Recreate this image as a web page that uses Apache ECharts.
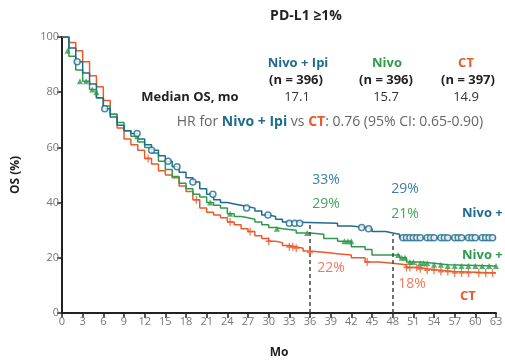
<!DOCTYPE html>
<html><head><meta charset="utf-8">
<script src="https://cdn.jsdelivr.net/npm/echarts@6/dist/echarts.min.js"></script>
<style>html,body{margin:0;padding:0;background:#fff}#c{width:505px;height:360px}</style>
</head><body><div id="c"></div>
<script>
const xTicks = [0,3,6,9,12,15,18,21,24,27,30,33,36,39,42,45,48,51,54,57,60,63];
const yTicks = [0,20,40,60,80,100];

const nivoIpi = [[0,100],[1,96],[2,91],[3,87],[4,83],[5,78],[6,74],[7,71],[8,68],[9,66],[10,65],[11,63],[12,61],[13,59],[14,57],[15,55],[16,53],[17,51],[18,49],[19,47.5],[20,45],[21,43],[22,41],[23,40],[24,39.5],[25,39],[26,38.5],[27,38],[28,37],[29,35.5],[30,35],[31,34],[32,33],[33,32.5],[40,31.5],[42,31],[44,30.5],[45,29.5],[47,29],[48,28.5],[49,27.3],[63,27.3]];
const nivo = [[0,100],[1,93],[2,88],[3,84],[4,81],[5,78],[6,75],[7,72],[8,69],[9,66],[10,64],[11,62],[12,60],[13,58],[14,55],[15,52],[16,49.5],[17,47],[18,45],[19,43],[20,42],[21,40],[22,39],[23,38],[24,36],[25,35],[26,34.5],[27,34],[28,33],[29,32],[30,31],[31,30.5],[32,30],[34,29],[36,28.5],[38,27],[40,26],[42,24],[44,23],[45,21],[48.5,21],[49,20],[50,18.5],[52,18],[54,17.5],[56,17],[63,17]];
const ct = [[0,100],[1,98],[2,95],[3,91],[4,86],[5,82],[6,77],[7,72],[8,67],[9,63],[10,61],[11,59],[12,56],[13,54],[14,51.5],[15,50],[16,49],[17,46],[18,44],[19,41],[20,38],[21,36.5],[22,35.5],[23,34.5],[24,33],[25,32],[26,30.5],[27,29.5],[28,28],[29,27],[30,26],[31,25.5],[32,24.5],[33,24],[34,23.5],[35,22.5],[36,22],[38,21.5],[40,21],[42,20],[44,18.5],[46,18],[48,17.5],[50,16.5],[52,16],[53,15.5],[55,15],[57,14.5],[63,14.5]];

const nivoIpiCens = [[2.2,91],[6.2,74],[10.9,65],[13,59],[15.4,55],[16.7,53],[19,47.5],[21.9,43],[26.8,38],[29.9,35.5],[33,32.5],[33.8,32.5],[34.5,32.5],[43.5,31],[44.5,30.5],[49.5,27.3],[50,27.3],[50.5,27.3],[51,27.3],[51.5,27.3],[52,27.3],[53,27.3],[53.5,27.3],[54,27.3],[55,27.3],[55.5,27.3],[56,27.3],[57,27.3],[57.5,27.3],[58,27.3],[59,27.3],[59.5,27.3],[60,27.3],[61,27.3],[61.5,27.3],[62,27.3],[62.5,27.3]];
const nivoCens = [[0.8,95],[2.6,84],[3.5,84],[4.4,81],[5,80],[10.9,64],[21.5,40],[24.4,36],[31.2,30.5],[35.6,29],[41,26],[41.5,26],[42,26],[48.8,21],[49.3,20],[49.8,20],[50.5,18.5],[51,18.5],[52,18],[52.5,18],[53,18],[54,17.5],[55,17.5],[56,17],[57,17],[58,17],[59,17],[60,17],[61,17],[62,17],[63,17]];
const ctCens = [[12.5,56],[19.5,41],[24.4,33],[27.3,29.5],[30,26],[33,24],[33.5,24],[34,23.5],[36,22],[44.3,18.5],[50,16.5],[50.5,16.5],[51.5,16.5],[52,16],[53,15.5],[54,15.5],[55,15],[56,15],[57,14.5],[58,14.5],[59,14.5],[60.5,14.5],[61.5,14.5],[62.5,14.5]];

const landmarks = [[36,32.5],[48,28.5]];

const BLUE='#1f6b8e', GREEN='#2f9a4c', RED='#ec5a2c';
const FONT='"Open Sans", "Liberation Sans", sans-serif';

const chart = echarts.init(document.getElementById('c'), null, {renderer:'canvas'});
function txt(x,y,t,fill,opts){return {type:'text',x:x,y:y,style:Object.assign({text:t,fill:fill,font:'13px '+FONT,textAlign:'center',textVerticalAlign:'middle'},opts||{})};}
const bold='bold 13px '+FONT;
const pct='14px '+FONT;
chart.setOption({
  animation:false,
  grid:{left:62,right:9,top:37,bottom:47,containLabel:false,outerBoundsMode:'none'},
  xAxis:{type:'value',min:0,max:63,interval:3,
    axisLine:{lineStyle:{color:'#222',width:2}},
    axisTick:{show:true,length:5,lineStyle:{color:'#222',width:1.5}},
    axisLabel:{color:'#777',fontSize:11,fontFamily:FONT,margin:3,showMinLabel:true,showMaxLabel:true,interval:0},
    splitLine:{show:false},
    name:'Mo',nameLocation:'middle',nameGap:34,nameTextStyle:{color:'#222',fontWeight:'bold',fontSize:12,fontFamily:FONT}},
  yAxis:{type:'value',min:0,max:100,interval:20,
    axisLine:{show:true,lineStyle:{color:'#222',width:2}},
    axisTick:{show:true,length:5,lineStyle:{color:'#222',width:1.5}},
    axisLabel:{color:'#777',fontSize:11,fontFamily:FONT,margin:3},
    splitLine:{show:false},
    name:'OS (%)',nameLocation:'middle',nameGap:40,nameTextStyle:{color:'#222',fontWeight:'bold',fontSize:12,fontFamily:FONT}},
  series:[
    {type:'line',step:'end',data:ct,symbol:'none',lineStyle:{color:RED,width:1.5},z:2,
      markLine:{silent:true,symbol:'none',label:{show:false},lineStyle:{color:'#444',type:[4,3],width:1.5},
        data:landmarks.map(p=>[{coord:[p[0],0]},{coord:[p[0],p[1]]}])}},
    {type:'line',step:'end',data:nivo,symbol:'none',lineStyle:{color:GREEN,width:1.5},z:3},
    {type:'line',step:'end',data:nivoIpi,symbol:'none',lineStyle:{color:BLUE,width:1.5},z:4},
    {type:'scatter',data:ctCens,symbol:'path://M0,5L10,5M5,0L5,10',symbolSize:[6,8],itemStyle:{color:'none',borderColor:RED,borderWidth:1.5},z:5},
    {type:'scatter',data:nivoCens,symbol:'triangle',symbolSize:6,itemStyle:{color:GREEN},z:6},
    {type:'scatter',data:nivoIpiCens,symbol:'circle',symbolSize:6,itemStyle:{color:'#fff',borderColor:BLUE,borderWidth:1.5},z:7}
  ],
  graphic:[
    txt(306,16,'PD-L1 ≥1%','#222',{font:'bold 14px '+FONT}),
    txt(298,63,'Nivo + Ipi',BLUE,{font:bold}),
    txt(387,63,'Nivo',GREEN,{font:bold}),
    txt(466,63,'CT',RED,{font:bold}),
    txt(296,80,'(n = 396)','#222',{font:bold}),
    txt(386,80,'(n = 396)','#222',{font:bold}),
    txt(468,80,'(n = 397)','#222',{font:bold}),
    txt(190,97,'Median OS, mo','#222',{font:bold}),
    txt(297,97,'17.1','#333'),
    txt(386,97,'15.7','#333'),
    txt(466,97,'14.9','#333'),
    {type:'text',x:330,y:122,style:{rich:{g:{fill:'#666',font:'14px '+FONT},b:{fill:BLUE,font:'bold 14px '+FONT},r:{fill:RED,font:'bold 14px '+FONT}},
      text:'{g|HR for }{b|Nivo + Ipi}{g| vs }{r|CT}{g|: 0.76 (95% CI: 0.65-0.90)}',textAlign:'center',textVerticalAlign:'middle'}},
    txt(326,180,'33%','#3a7fa6',{font:pct}),
    txt(326,204,'29%','#47a35a',{font:pct}),
    txt(405,189,'29%','#3a7fa6',{font:pct}),
    txt(405,214,'21%','#47a35a',{font:pct}),
    txt(331,268,'22%','#f07a5a',{font:pct}),
    txt(412,284,'18%','#f07a5a',{font:pct}),
    {type:'text',x:462,y:213,style:{text:'Nivo + Ipi',fill:BLUE,font:bold,textVerticalAlign:'middle'}},
    {type:'text',x:462,y:255,style:{text:'Nivo + Ipi',fill:GREEN,font:bold,textVerticalAlign:'middle'}},
    {type:'text',x:460,y:296,style:{text:'CT',fill:RED,font:bold,textVerticalAlign:'middle'}}
  ]
});
</script></body></html>
